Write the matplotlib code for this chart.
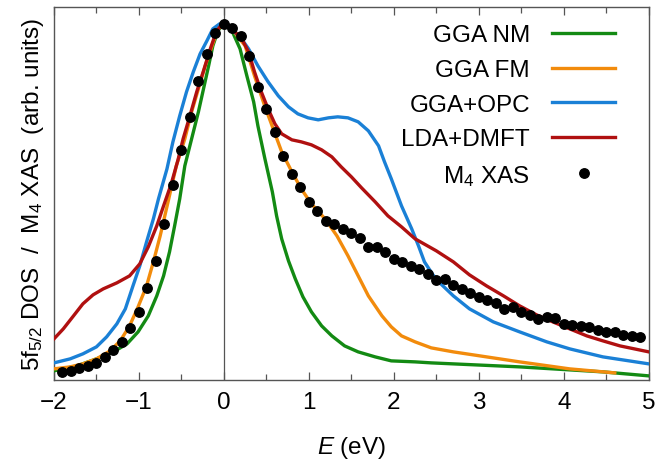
import matplotlib
matplotlib.use("Agg")
import matplotlib.pyplot as plt

plt.rcParams['font.family'] = ['Liberation Sans', 'DejaVu Sans']
plt.rcParams['mathtext.fontset'] = 'custom'
plt.rcParams['mathtext.rm'] = 'Liberation Sans'
plt.rcParams['mathtext.it'] = 'Liberation Sans:italic'

# GGA NM
x_nm = [-2.0, -1.73, -1.5, -1.3, -1.14, -1.01, -0.89, -0.79, -0.71, -0.64, -0.58, -0.52,
        -0.46, -0.38, -0.3, -0.24, -0.18, -0.13, -0.07, -0.01,
        0.09, 0.19, 0.27, 0.35, 0.4, 0.48, 0.57, 0.62, 0.68, 0.76, 0.84, 0.93, 1.03,
        1.15, 1.27, 1.42, 1.58, 1.78, 1.97, 2.25, 2.44, 3.48, 4.46, 5.0]
y_nm = [9, 14, 21, 28, 36, 48, 64, 84, 104, 128, 154, 181,
        214, 241, 268, 291, 314, 334, 349, 356,
        350, 331, 304, 278, 254, 222, 188, 164, 141, 119, 101, 83, 68,
        54, 44, 34, 28, 23, 19, 18, 17, 13, 8, 4]

# GGA FM
x_fm = [-2.0, -1.81, -1.66, -1.5, -1.34, -1.22, -1.11, -1.01, -0.91, -0.83, -0.75, -0.66,
        -0.56, -0.46, -0.38, -0.3, -0.22, -0.14, -0.07, 0.0,
        0.1, 0.25, 0.36, 0.48, 0.58, 0.68, 0.8, 0.91, 1.03, 1.19, 1.33, 1.46, 1.58,
        1.7, 1.86, 1.97, 2.09, 2.25, 2.44, 2.7, 3.09, 3.48, 4.07, 4.6]
y_fm = [11, 13, 16, 21, 29, 39, 54, 73, 94, 118, 144, 177,
        214, 241, 268, 291, 314, 334, 351, 356,
        350, 334, 304, 274, 251, 228, 208, 191, 176, 161, 144, 124, 104,
        84, 64, 53, 44, 38, 32, 28, 23, 18, 11, 7]

# GGA+OPC
x_opc = [-2.0, -1.81, -1.66, -1.5, -1.38, -1.26, -1.16, -1.07, -0.99, -0.91, -0.83, -0.77,
         -0.67, -0.6, -0.52, -0.44, -0.36, -0.28, -0.2, -0.13, -0.05, 0.01,
         0.19, 0.29, 0.4, 0.52, 0.64, 0.76, 0.87, 0.99, 1.11, 1.23, 1.34, 1.46, 1.58,
         1.7, 1.82, 1.89, 1.97, 2.09, 2.21, 2.29, 2.36, 2.46, 2.54, 2.7, 2.89, 3.17,
         3.48, 3.8, 4.07, 4.46, 5.0]
y_opc = [17, 21, 26, 33, 43, 56, 71, 94, 114, 138, 161, 181,
         211, 238, 264, 288, 308, 326, 339, 351, 356, 356,
         343, 331, 314, 298, 284, 273, 266, 262, 260, 262, 263, 262, 258,
         249, 234, 218, 201, 174, 151, 134, 118, 105, 97, 84, 71, 58,
         48, 38, 31, 23, 16]

# LDA+DMFT
x_dmft = [-2.0, -1.89, -1.77, -1.66, -1.54, -1.42, -1.26, -1.11, -0.99, -0.89, -0.79, -0.71,
          -0.62, -0.54, -0.48, -0.4, -0.32, -0.24, -0.16, -0.09, -0.03, 0.05,
          0.21, 0.29, 0.36, 0.44, 0.52, 0.6, 0.68, 0.8, 0.91, 1.03, 1.15, 1.27, 1.38,
          1.5, 1.62, 1.78, 1.93, 2.09, 2.25, 2.5, 2.7, 2.89, 3.09, 3.29, 3.48, 3.68,
          3.87, 4.07, 4.27, 4.46, 4.66, 5.0]
y_dmft = [41, 51, 64, 76, 85, 91, 97, 104, 116, 133, 154, 174,
          196, 220, 241, 264, 288, 309, 331, 348, 355, 355,
          341, 328, 308, 288, 271, 256, 246, 240, 238, 235, 230, 223, 213,
          203, 192, 178, 164, 153, 141, 129, 118, 105, 94, 84, 74, 65,
          58, 51, 44, 39, 34, 28]

# M4 XAS (measured)
x_xas = [-1.9, -1.8, -1.7, -1.6, -1.5, -1.4, -1.3, -1.2, -1.1, -1.0, -0.9, -0.8, -0.7,
         -0.6, -0.5, -0.4, -0.3, -0.2, -0.1, 0.0, 0.1, 0.2, 0.3, 0.4, 0.5, 0.6, 0.7,
         0.8, 0.9, 1.0, 1.1, 1.2, 1.3, 1.4, 1.5, 1.6, 1.7, 1.8, 1.9, 2.0, 2.1, 2.2,
         2.3, 2.4, 2.5, 2.6, 2.7, 2.8, 2.9, 3.0, 3.1, 3.2, 3.3, 3.4, 3.5, 3.6, 3.7,
         3.8, 3.9, 4.0, 4.1, 4.2, 4.3, 4.4, 4.5, 4.6, 4.7, 4.8, 4.9]
y_xas = [8, 9, 12, 14, 17, 23, 30, 38, 52, 68, 92, 119, 156,
         195, 230, 263, 299, 326, 347, 356, 352, 344, 324, 293, 271, 248, 224,
         206, 193, 178, 169, 159, 156, 151, 147, 142, 133, 133, 128, 121, 118, 114,
         111, 106, 100, 101, 95, 91, 87, 83, 80, 77, 71, 73, 68, 65, 61,
         63, 62, 56, 55, 54, 53, 50, 48, 48, 45, 44, 43]

fig = plt.figure(figsize=(6.58, 4.6), dpi=100)
ax = fig.add_axes([0.082, 0.172, 0.904, 0.811])

ax.axvline(0, color='#555555', lw=0.9, zorder=1)

lw = 2.4
ax.plot(x_nm, y_nm, color='#138a13', lw=lw, label='GGA NM', zorder=3)
ax.plot(x_fm, y_fm, color='#f28b0c', lw=lw, label='GGA FM', zorder=3)
ax.plot(x_opc, y_opc, color='#1a80d6', lw=lw, label='GGA+OPC', zorder=3)
ax.plot(x_dmft, y_dmft, color='#b01010', lw=lw, label='LDA+DMFT', zorder=3)
ax.plot(x_xas, y_xas, 'o', color='black', ms=6.8, label='M$_4$ XAS', zorder=4)

ax.set_xlim(-2, 5)
ax.set_ylim(0, 373)
ax.set_yticks([])
ax.set_xticks(range(-2, 6))
ax.set_xticklabels(['\u22122', '\u22121', '0', '1', '2', '3', '4', '5'])
ax.set_xticks([-1.5, -0.5, 0.5, 1.5, 2.5, 3.5, 4.5], minor=True)
ax.tick_params(axis='x', which='both', direction='in', top=True, bottom=True,
               color='#555555', labelsize=17.5, pad=8)
ax.tick_params(axis='x', which='major', length=6, width=0.9)
ax.tick_params(axis='x', which='minor', length=4, width=0.9)
for s in ax.spines.values():
    s.set_color('#555555')
    s.set_linewidth(1.0)

ax.set_xlabel('$E$ (eV)', fontsize=17.5, labelpad=15)
ax.set_ylabel('5f$_{5/2}$ DOS  /  M$_4$ XAS  (arb. units)', fontsize=17.5, labelpad=6)

leg = ax.legend(loc='upper right', bbox_to_anchor=(0.968, 0.992), markerfirst=False,
                frameon=False, fontsize=17.5, handlelength=2.6, handletextpad=0.9,
                labelspacing=0.52, borderaxespad=0.2, numpoints=1)

fig.savefig('out.png', dpi=100)
